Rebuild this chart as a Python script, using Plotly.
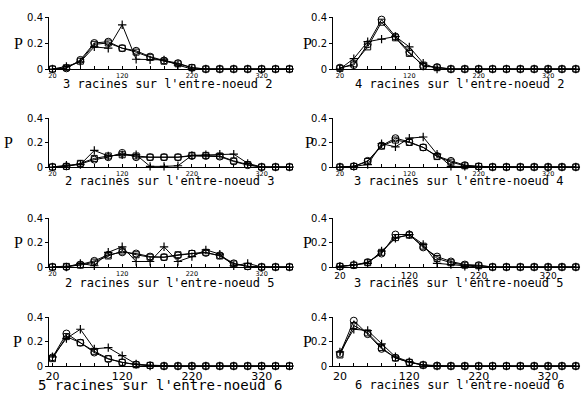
import plotly.graph_objects as go

W, H = 582, 394

# x positions (internode length classes)
x = [20, 40, 60, 80, 100, 120, 140, 160, 180, 200, 220, 240, 260, 280, 300, 320, 340, 360]
x_tick_labels = {20: "20", 120: "120", 220: "220", 320: "320"}
y_ticks = [0, 0.2, 0.4]
y_tick_labels = ["0", "0.2", "0.4"]

titles = [
    "3 racines sur l'entre-noeud 2",
    "4 racines sur l'entre-noeud 2",
    "2 racines sur l'entre-noeud 3",
    "3 racines sur l'entre-noeud 4",
    "2 racines sur l'entre-noeud 5",
    "3 racines sur l'entre-noeud 5",
    "5 racines sur l'entre-noeud 6",
    "6 racines sur l'entre-noeud 6",
]

# observed (line with + markers)
obs1 = [0, 0.02, 0.055, 0.17, 0.16, 0.34, 0.075, 0.07, 0.07, 0.03, 0, 0, 0, 0, 0, 0, 0, 0]
obs2 = [0, 0.08, 0.21, 0.23, 0.25, 0.17, 0.045, 0, 0, 0, 0, 0, 0, 0, 0, 0, 0, 0]
obs3 = [0, 0.015, 0.02, 0.135, 0.09, 0.10, 0.10, 0.005, 0.005, 0.01, 0.095, 0.10, 0.105, 0.105, 0.03, 0, 0, 0]
obs4 = [0, 0.005, 0.02, 0.19, 0.165, 0.235, 0.245, 0.105, 0.005, 0.005, 0, 0, 0, 0, 0, 0, 0, 0]
obs5 = [0, 0, 0.03, 0.01, 0.12, 0.165, 0.045, 0.045, 0.165, 0.045, 0.085, 0.14, 0.105, 0.01, 0.03, 0, 0, 0]
obs6 = [0.005, 0.02, 0.03, 0.13, 0.235, 0.265, 0.185, 0.03, 0.02, 0.005, 0, 0, 0, 0, 0, 0, 0, 0]
obs7 = [0.075, 0.225, 0.30, 0.14, 0.15, 0.085, 0.016, 0, 0, 0, 0, 0, 0, 0, 0, 0, 0, 0]
obs8 = [0.115, 0.30, 0.29, 0.18, 0.075, 0.035, 0.008, 0, 0, 0, 0, 0, 0, 0, 0, 0, 0, 0]

# model 1 (circles)
circ1 = [0, 0.005, 0.07, 0.20, 0.21, 0.16, 0.14, 0.095, 0.065, 0.045, 0.01, 0, 0, 0, 0, 0, 0, 0]
circ2 = [0.01, 0.03, 0.19, 0.38, 0.25, 0.13, 0.02, 0.015, 0, 0, 0, 0, 0, 0, 0, 0, 0, 0]
circ3 = [0, 0.005, 0.025, 0.06, 0.08, 0.115, 0.08, 0.08, 0.08, 0.08, 0.09, 0.09, 0.085, 0.045, 0.015, 0, 0, 0]
circ4 = [0, 0.005, 0.05, 0.175, 0.235, 0.205, 0.16, 0.09, 0.05, 0.015, 0.005, 0, 0, 0, 0, 0, 0, 0]
circ5 = [0, 0, 0.02, 0.05, 0.10, 0.12, 0.11, 0.085, 0.08, 0.095, 0.11, 0.115, 0.095, 0.03, 0.005, 0, 0, 0]
circ6 = [0.005, 0.015, 0.04, 0.11, 0.265, 0.265, 0.16, 0.085, 0.045, 0.02, 0.015, 0, 0, 0, 0, 0, 0, 0]
circ7 = [0.07, 0.265, 0.19, 0.11, 0.057, 0.03, 0.012, 0.005, 0, 0, 0, 0, 0, 0, 0, 0, 0, 0]
circ8 = [0.10, 0.37, 0.26, 0.14, 0.067, 0.03, 0.008, 0.003, 0, 0, 0, 0, 0, 0, 0, 0, 0, 0]

# model 2 (squares)
sq1 = [0, 0.01, 0.06, 0.19, 0.20, 0.16, 0.13, 0.09, 0.06, 0.04, 0.01, 0, 0, 0, 0, 0, 0, 0]
sq2 = [0.005, 0.04, 0.17, 0.36, 0.24, 0.12, 0.03, 0.01, 0, 0, 0, 0, 0, 0, 0, 0, 0, 0]
sq3 = [0, 0.005, 0.03, 0.07, 0.09, 0.10, 0.09, 0.08, 0.08, 0.08, 0.095, 0.095, 0.09, 0.05, 0.02, 0, 0, 0]
sq4 = [0, 0.005, 0.045, 0.17, 0.22, 0.20, 0.16, 0.085, 0.04, 0.01, 0.005, 0, 0, 0, 0, 0, 0, 0]
sq5 = [0, 0.005, 0.015, 0.04, 0.09, 0.13, 0.10, 0.08, 0.08, 0.10, 0.11, 0.12, 0.09, 0.025, 0.005, 0, 0, 0]
sq6 = [0.005, 0.015, 0.035, 0.12, 0.24, 0.26, 0.17, 0.07, 0.035, 0.015, 0.01, 0, 0, 0, 0, 0, 0, 0]
sq7 = [0.06, 0.24, 0.19, 0.12, 0.06, 0.03, 0.01, 0.005, 0, 0, 0, 0, 0, 0, 0, 0, 0, 0]
sq8 = [0.09, 0.33, 0.27, 0.15, 0.065, 0.03, 0.008, 0, 0, 0, 0, 0, 0, 0, 0, 0, 0, 0]

observed = [obs1, obs2, obs3, obs4, obs5, obs6, obs7, obs8]
model_c = [circ1, circ2, circ3, circ4, circ5, circ6, circ7, circ8]
model_s = [sq1, sq2, sq3, sq4, sq5, sq6, sq7, sq8]

# layout geometry in page pixels
rows_px = [(17, 69), (118, 167), (218, 267), (317, 366)]  # (top, bottom of plot area)
cols_px = [(49, 293), (333, 580)]
x_ranges = [[15, 365], [10, 366]]
title_y = [[84, 84], [181, 181], [283, 283], [385, 385]]
title_x = [[168, 460], [170, 459], [170, 459], [160, 460]]
title_size = [[12, 12], [12, 12], [12, 12], [14, 12]]
xtick_size = [[6.5, 6.5], [6.5, 6.5], [6.5, 9], [11, 11]]
p_x = [[18, 307], [8, 309], [18, 307], [17, 307]]


def fx(px):
    return px / W


def fy(py):
    return 1 - py / H


fig = go.Figure()
annotations = []
layout = {}
for i in range(8):
    r, c = divmod(i, 2)
    n = i + 1
    xa = "x" if n == 1 else f"x{n}"
    ya = "y" if n == 1 else f"y{n}"
    line = dict(color="black", width=1)
    fig.add_trace(go.Scatter(x=x, y=model_s[i], mode="lines+markers", xaxis=xa, yaxis=ya,
                             line=line, cliponaxis=False,
                             marker=dict(symbol="square-open", size=6, color="black", line=dict(width=1))))
    fig.add_trace(go.Scatter(x=x, y=model_c[i], mode="lines+markers", xaxis=xa, yaxis=ya,
                             line=line, cliponaxis=False,
                             marker=dict(symbol="circle-open", size=7, color="black", line=dict(width=1))))
    fig.add_trace(go.Scatter(x=x, y=observed[i], mode="lines+markers", xaxis=xa, yaxis=ya,
                             line=line, cliponaxis=False,
                             marker=dict(symbol="cross-thin-open", size=6, color="black",
                                         line=dict(width=1.2, color="black"))))
    top, bot = rows_px[r]
    left, right = cols_px[c]
    key_x = "xaxis" if n == 1 else f"xaxis{n}"
    key_y = "yaxis" if n == 1 else f"yaxis{n}"
    layout[key_x] = dict(domain=[fx(left), fx(right)], anchor=ya, range=x_ranges[c],
                         tickvals=x, ticktext=[x_tick_labels.get(v, "") for v in x],
                         ticks="inside", ticklen=3, tickwidth=1, tickcolor="black", automargin=False,
                         showline=True, linecolor="black", linewidth=1, showgrid=False, zeroline=False,
                         tickfont=dict(family="DejaVu Sans", size=xtick_size[r][c], color="black"))
    layout[key_y] = dict(domain=[fy(bot), fy(top)], anchor=xa, range=[0, 0.4],
                         tickvals=y_ticks, ticktext=y_tick_labels, automargin=False,
                         ticks="outside", ticklen=3, tickwidth=1, tickcolor="black",
                         showline=True, linecolor="black", linewidth=1, showgrid=False, zeroline=False,
                         tickfont=dict(family="DejaVu Sans", size=10, color="black"))
    annotations.append(dict(text=titles[i], xref="paper", yref="paper",
                            x=fx(title_x[r][c]), y=fy(title_y[r][c]),
                            xanchor="center", yanchor="middle", showarrow=False,
                            font=dict(family="DejaVu Sans Mono", size=title_size[r][c], color="black")))
    ymid = (top + bot) / 2
    annotations.append(dict(text="P", xref="paper", yref="paper",
                            x=fx(p_x[r][c]), y=fy(ymid),
                            xanchor="center", yanchor="middle", showarrow=False,
                            font=dict(family="Liberation Serif", size=16, color="black")))

fig.update_layout(template="none", width=W, height=H, margin=dict(l=0, r=0, t=0, b=0, pad=0),
                  paper_bgcolor="white", plot_bgcolor="white", showlegend=False,
                  annotations=annotations, **layout)

fig.write_html("out.html", config={"displayModeBar": False},
               post_script="document.body.style.margin='0';")
